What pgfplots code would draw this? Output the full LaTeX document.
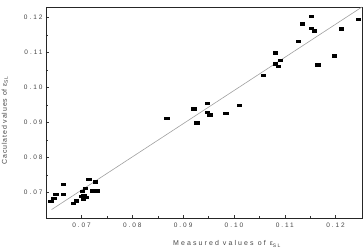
\documentclass[border=0pt]{standalone}
\usepackage{fontspec}
\setmainfont{Liberation Sans}
\newfontfamily\spaced[LetterSpace=30]{Liberation Sans}
\newfontfamily\lspaced[LetterSpace=12]{Liberation Sans}
\usepackage{pgfplots}
\pgfplotsset{compat=1.18}
\definecolor{txt}{RGB}{70,70,70}
\definecolor{fitline}{RGB}{160,160,160}

% small filled rectangle used as the data marker
\pgfdeclareplotmark{brect}{%
  \pgfpathrectangle{\pgfpoint{-2.7pt}{-1.7pt}}{\pgfpoint{5.4pt}{3.4pt}}%
  \pgfusepathqfill}

\begin{document}
\begin{tikzpicture}
\begin{axis}[
  scale only axis,
  width=316pt, height=211pt,
  xmin=0.0630, xmax=0.1252,
  ymin=0.0627, ymax=0.1230,
  xtick={0.07,0.08,0.09,0.10,0.11,0.12},
  ytick={0.07,0.08,0.09,0.10,0.11,0.12},
  minor x tick num=1, minor y tick num=1,
  tick align=inside,
  xtick pos=bottom, ytick pos=left,
  major tick length=3pt, minor tick length=2pt,
  tick style={black!80, line width=0.5pt},
  axis line style={black!85, line width=0.7pt},
  /pgf/number format/assume math mode=true,
  /pgf/number format/fixed, /pgf/number format/precision=2,
  /pgf/number format/fixed zerofill,
  scaled ticks=false,
  ticklabel style={font=\spaced\fontsize{6.5}{7}\selectfont, text=txt},
  xticklabel style={yshift=-1pt},
  xlabel={Measured values of ε\textsubscript{SL}},
  ylabel={Caculated values of ε\textsubscript{SL}},
  xlabel style={at={(axis description cs:0.573,0)}, anchor=center, yshift=-26pt,
    font=\spaced\fontsize{7}{8}\selectfont, text=txt},
  ylabel style={at={(axis description cs:-0.130,0.464)}, anchor=center,
    font=\lspaced\fontsize{7}{8}\selectfont, text=txt},
  clip=false,
]
% line of agreement
\addplot[fitline, line width=0.6pt] coordinates {(0.0641,0.0651) (0.1252,0.1230)};
% measured vs calculated
\addplot[only marks, mark=brect, black] coordinates {
  (0.0640,0.0674) (0.0646,0.0682) (0.0650,0.0694) (0.0664,0.0723)
  (0.0664,0.0694) (0.0684,0.0668) (0.0690,0.0675) (0.0700,0.0688)
  (0.0702,0.0702) (0.0708,0.0711) (0.0705,0.0692) (0.0709,0.0685)
  (0.0704,0.0681) (0.0715,0.0737) (0.0728,0.0730) (0.0722,0.0704)
  (0.0730,0.0704)
  (0.0868,0.0911) (0.0921,0.0938) (0.0927,0.0899) (0.0948,0.0955)
  (0.0948,0.0928) (0.0953,0.0921) (0.0984,0.0926) (0.1011,0.0949)
  (0.1058,0.1034) (0.1082,0.1098) (0.1082,0.1067) (0.1088,0.1060)
  (0.1092,0.1077) (0.1127,0.1132) (0.1135,0.1181) (0.1153,0.1203)
  (0.1153,0.1168) (0.1159,0.1161) (0.1165,0.1064) (0.1198,0.1090)
  (0.1212,0.1167) (0.1245,0.1194)
};
\end{axis}
\pgfresetboundingbox
\path ([shift={(-46pt,-33pt)}]current axis.south west) rectangle ([shift={(1pt,7pt)}]current axis.north east);
\end{tikzpicture}
\end{document}
